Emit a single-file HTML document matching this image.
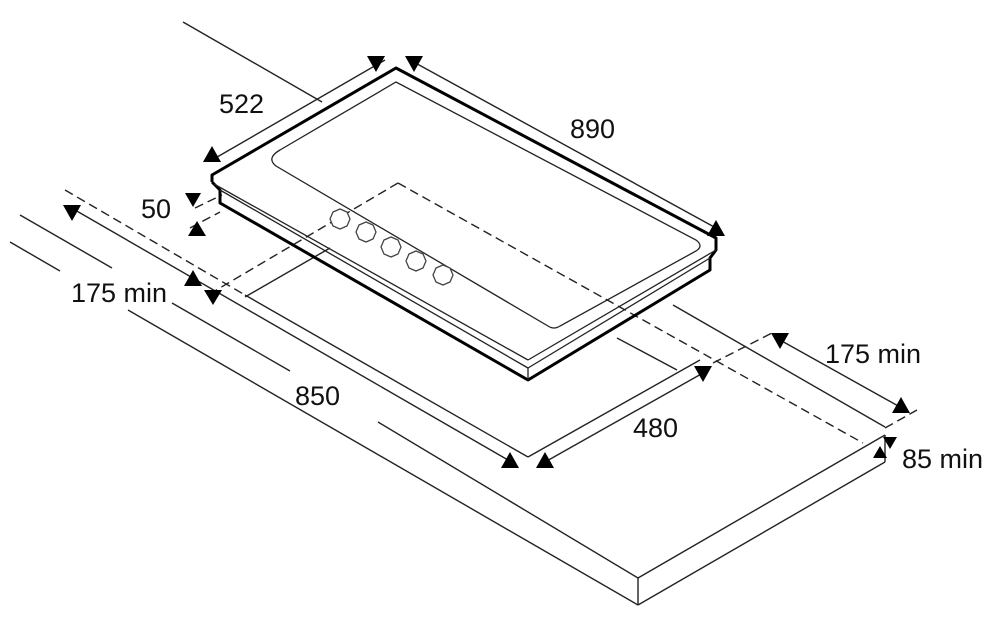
<!DOCTYPE html>
<html><head><meta charset="utf-8"><style>
html,body{margin:0;padding:0;background:#fff;}
svg{display:block}
text{font-family:"Liberation Sans",sans-serif;font-size:27px;fill:#111}
</style></head><body>
<svg width="1000" height="634" viewBox="0 0 1000 634" xmlns="http://www.w3.org/2000/svg">
<g stroke="#222" stroke-width="1.4" fill="none">
<line x1="183" y1="22" x2="322" y2="102"/>
<line x1="673" y1="305" x2="885" y2="427"/>
<line x1="20" y1="215" x2="112" y2="268"/>
<line x1="172" y1="303" x2="290" y2="371"/>
<line x1="378" y1="422" x2="638" y2="578"/>
<line x1="10" y1="242" x2="60" y2="271"/>
<line x1="128" y1="310" x2="638" y2="605"/>
<line x1="638" y1="578" x2="885" y2="435"/>
<line x1="638" y1="605" x2="885" y2="462"/>
<line x1="638" y1="578" x2="638" y2="605"/>
<line x1="885" y1="435" x2="885" y2="462"/>
<line x1="245" y1="295" x2="528" y2="457"/>
<line x1="528" y1="457" x2="700" y2="360"/>
<line x1="245" y1="297" x2="330" y2="248"/>
<line x1="617" y1="338" x2="677" y2="370"/>
<line x1="75" y1="210" x2="508" y2="460"/>
<line x1="545" y1="462" x2="703" y2="373"/>
<line x1="780" y1="340" x2="900" y2="407"/>
<line x1="212" y1="160" x2="385" y2="60"/>
<line x1="410" y1="60" x2="716" y2="228"/>
</g>
<g stroke="#222" stroke-width="1.4" fill="none" stroke-dasharray="9,5">
<line x1="65" y1="190" x2="245" y2="295"/>
<line x1="398" y1="183" x2="863" y2="443"/>
<line x1="398" y1="183" x2="213" y2="292"/>
<line x1="713" y1="363" x2="772" y2="333"/>
<line x1="885" y1="428" x2="917" y2="410"/>
<line x1="195" y1="208" x2="222" y2="195"/>
<line x1="190" y1="228" x2="220" y2="212"/>
</g>
<g stroke="#000" stroke-width="3" fill="none" stroke-linejoin="round">
<polyline points="212,182 212,175 396,68 716,238 716,250 710,258 710,270 528,380 220,203 220,190 212,182"/>
</g>
<g stroke="#222" stroke-width="1.3" fill="none">
<line x1="214" y1="184" x2="528" y2="360"/>
<line x1="220" y1="190" x2="528" y2="368"/>
<line x1="528" y1="360" x2="716" y2="250"/>
<line x1="528" y1="368" x2="710" y2="258"/>
<line x1="528" y1="368" x2="528" y2="380"/>
<path d="M280,150 L396,82 L696,240 Q704,246 696,251 L560,326 Q554,330 548,326 L276,166 Q266,158 280,150 Z"/>
</g>
<g stroke="#444" stroke-width="1.3" fill="#fff">
<polygon points="333,212 340,209 347,212 350,219 347,226 340,229 333,226 330,219"/>
<polygon points="359,225 366,222 373,225 376,232 373,239 366,242 359,239 356,232"/>
<polygon points="384,240 391,237 398,240 401,247 398,254 391,257 384,254 381,247"/>
<polygon points="409,254 416,251 423,254 426,261 423,268 416,271 409,268 406,261"/>
<polygon points="436,268 443,265 450,268 453,275 450,282 443,285 436,282 433,275"/>
</g>
<g fill="#000">
<polygon points="367,56 385,56 376,72"/>
<polygon points="405,56 423,56 414,72"/>
<polygon points="203,162 221,162 212,146"/>
<polygon points="707,236 725,236 716,220"/>
<polygon points="185,193 201,193 193,207"/>
<polygon points="188,236 206,236 197,221"/>
<polygon points="184,286 202,286 193,270"/>
<polygon points="204,290 222,290 213,305"/>
<polygon points="63,205 81,205 72,221"/>
<polygon points="501,468 519,468 510,452"/>
<polygon points="536,468 554,468 545,452"/>
<polygon points="694,366 712,366 703,382"/>
<polygon points="771,333 789,333 780,349"/>
<polygon points="892,413 910,413 901,397"/>
<polygon points="883,437 897,437 890,449"/>
<polygon points="873,458 887,458 880,446"/>
</g>
<text x="219" y="113">522</text>
<text x="570" y="138">890</text>
<text x="141" y="218">50</text>
<text x="71" y="302">175 min</text>
<text x="295" y="405">850</text>
<text x="633" y="437">480</text>
<text x="825" y="363">175 min</text>
<text x="902" y="468">85 min</text>
</svg>
</body></html>
